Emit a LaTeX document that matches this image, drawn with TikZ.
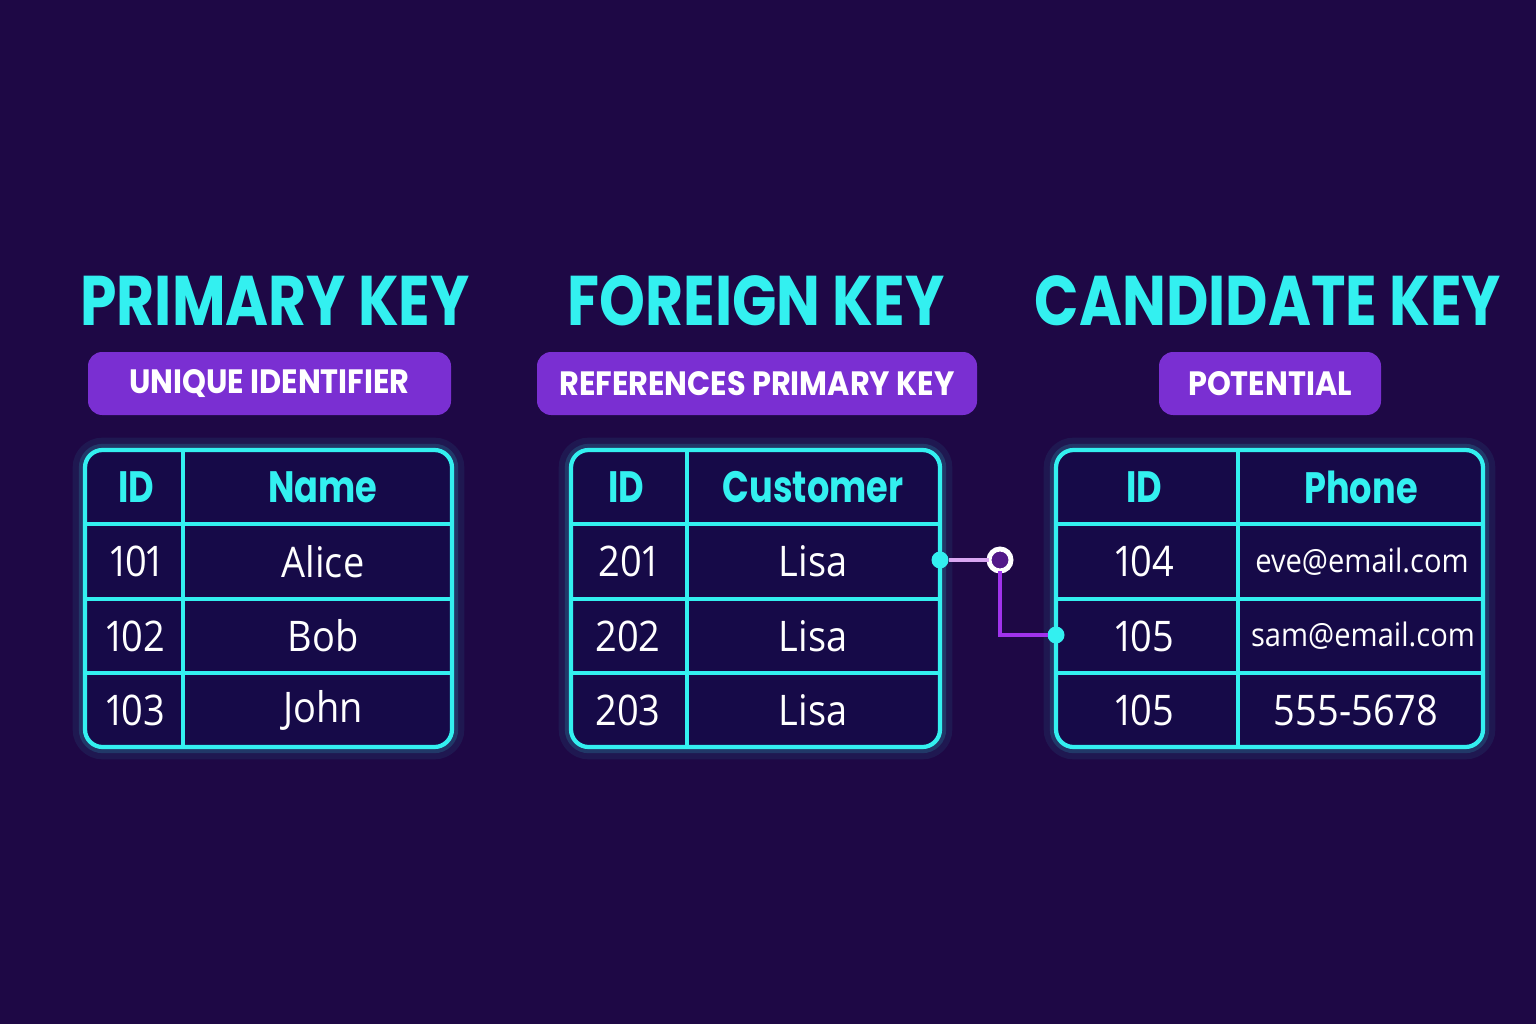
\documentclass[tikz,border=0pt]{standalone}
\usepackage{fontspec}
\setmainfont{Open Sans}[Numbers=Proportional, FakeStretch=0.9]
\newfontfamily\headfont{Poppins}
\newfontfamily\ttlfont{Poppins}[FakeStretch=0.83]
\newfontfamily\badgefont{Poppins}[FakeStretch=0.9]
\newfontfamily\colfont{Poppins}[FakeStretch=0.8]
\usetikzlibrary{positioning}

\definecolor{bgpurple}{HTML}{1E0845}
\definecolor{cellblue}{HTML}{160A48}
\definecolor{neoncyan}{HTML}{33F0F0}
\definecolor{badgepurple}{HTML}{7A2FD2}
\definecolor{linkpurple}{HTML}{A033EC}
\definecolor{linklilac}{HTML}{D9A6F2}

\begin{document}
\begin{tikzpicture}
\tikzset{ inner sep=0pt, outer sep=0pt,
  ttl/.style={text=neoncyan, font=\ttlfont\bfseries\fontsize{20}{22}\selectfont},
  badge/.style={fill=badgepurple, rounded corners=4pt, minimum height=0.63cm,
                text=white, font=\badgefont\bfseries\fontsize{9.6}{12}\selectfont},
  frame/.style={draw=neoncyan, line width=1.2pt, fill=cellblue, rounded corners=5pt,
                minimum height=2.97cm},
  glow/.style={draw=neoncyan, rounded corners=5pt},
  grid/.style={draw=neoncyan, line width=1.2pt},
  head/.style={text=neoncyan, font=\colfont\bfseries\fontsize{12.5}{15}\selectfont},
  cell/.style={text=white, font=\fontsize{12}{14}\selectfont},
  mail/.style={text=white, font=\fontsize{9.2}{11}\selectfont},
  dot/.style={circle, fill=neoncyan, minimum size=0.17cm},
  ring/.style={circle, draw=white, line width=1.4pt, fill=bgpurple!60!linkpurple, minimum size=0.22cm},
}
\fill [bgpurple] (0,0) rectangle (15.36,10.24);
\useasboundingbox (0,0) rectangle (15.36,10.24);

%% titles
\node [ttl] (P) at (2.75,7.23) {PRIMARY KEY};
\node [ttl] (F) at (7.56,7.23) {FOREIGN KEY};
\node [ttl] (C) at (12.68,7.23) {CANDIDATE KEY};

\node [badge, minimum width=3.63cm] (PB) at (2.695,6.405) {UNIQUE IDENTIFIER};
\node [badge, minimum width=4.40cm] (FB) at (7.57,6.405) {REFERENCES PRIMARY KEY};
\node [badge, minimum width=2.22cm] (CB) at (12.70,6.405) {POTENTIAL};

%% table frames with a soft glow
\draw [glow, line width=7pt, opacity=0.07] (0.85,2.77) rectangle (4.52,5.74);
\draw [glow, line width=3.5pt, opacity=0.15] (0.85,2.77) rectangle (4.52,5.74);
\draw [glow, line width=7pt, opacity=0.07] (5.71,2.77) rectangle (9.40,5.74);
\draw [glow, line width=3.5pt, opacity=0.15] (5.71,2.77) rectangle (9.40,5.74);
\draw [glow, line width=7pt, opacity=0.07] (10.56,2.77) rectangle (14.83,5.74);
\draw [glow, line width=3.5pt, opacity=0.15] (10.56,2.77) rectangle (14.83,5.74);
\node [frame, minimum width=3.67cm] (T1) at (2.685,4.255) {};
\node [frame, minimum width=3.69cm] (T2) at (7.555,4.255) {};
\node [frame, minimum width=4.27cm] (T3) at (12.695,4.255) {};

%% row and column lines
\draw [grid] (0.85,5.00) -- (4.52,5.00);
\draw [grid] (0.85,4.25) -- (4.52,4.25);
\draw [grid] (0.85,3.51) -- (4.52,3.51);
\draw [grid] (1.83,2.77) -- (1.83,5.74);

\draw [grid] (5.71,5.00) -- (9.40,5.00);
\draw [grid] (5.71,4.25) -- (9.40,4.25);
\draw [grid] (5.71,3.51) -- (9.40,3.51);
\draw [grid] (6.87,2.77) -- (6.87,5.74);

\draw [grid] (10.56,5.00) -- (14.83,5.00);
\draw [grid] (10.56,4.25) -- (14.83,4.25);
\draw [grid] (10.56,3.51) -- (14.83,3.51);
\draw [grid] (12.38,2.77) -- (12.38,5.74);

%% primary key table
\node [head] (P11) at (1.36,5.37) {ID};
\node [head] (P12) at (3.23,5.37) {Name};
\node [cell] (P21) at (1.36,4.625) {101};
\node [cell] (P22) at (3.23,4.625) {Alice};
\node [cell] (P31) at (1.36,3.88) {102};
\node [cell] (P32) at (3.23,3.88) {Bob};
\node [cell] (P41) at (1.36,3.14) {103};
\node [cell] (P42) at (3.23,3.14) {John};

%% foreign key table
\node [head] (F11) at (6.26,5.37) {ID};
\node [head] (F12) at (8.13,5.37) {Customer};
\node [cell] (F21) at (6.28,4.625) {201};
\node [cell] (F22) at (8.13,4.625) {Lisa};
\node [cell] (F31) at (6.28,3.88) {202};
\node [cell] (F32) at (8.13,3.88) {Lisa};
\node [cell] (F41) at (6.28,3.14) {203};
\node [cell] (F42) at (8.13,3.14) {Lisa};

%% candidate key table
\node [head] (C11) at (11.44,5.37) {ID};
\node [head] (C12) at (13.61,5.37) {Phone};
\node [cell] (C21) at (11.45,4.625) {104};
\node [mail] (C22) at (13.62,4.625) {eve@email.com};
\node [cell] (C31) at (11.45,3.88) {105};
\node [mail] (C32) at (13.63,3.88) {sam@email.com};
\node [cell] (C41) at (11.45,3.14) {105};
\node [cell] (C42) at (13.56,3.14) {555-5678};

%% link
\node [dot]  (L1) at (9.40,4.64) {};
\node [ring] (LR) at (10.00,4.64) {};
\node [dot]  (L2) at (10.56,3.89) {};
\draw [linklilac, line width=1.3pt] (L1) -- (LR);
\draw [linkpurple, line width=1.3pt] (LR) |- (L2);

\end{tikzpicture}
\end{document}
